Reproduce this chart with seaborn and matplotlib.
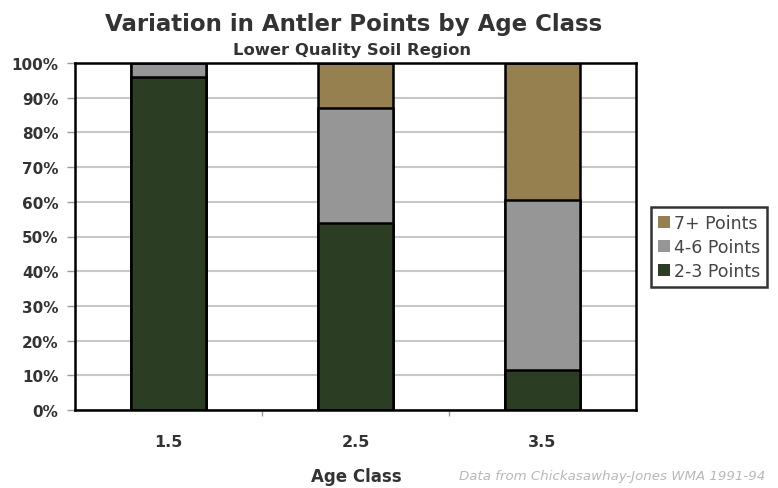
import numpy as np
import pandas as pd
import matplotlib.pyplot as plt
import seaborn as sns
from matplotlib.patches import Patch

# data (percent of bucks per age class)
age_classes = ["1.5", "2.5", "3.5"]
pts_2_3 = [96.0, 54.0, 11.5]
pts_4_6 = [4.0, 33.0, 49.0]
pts_7_plus = [0.0, 13.0, 39.5]

series_names = ["7+ Points", "4-6 Points", "2-3 Points"]
series_colors = ["#97804f", "#969696", "#2b3d22"]

sns.set_theme(style="white")
plt.rcParams["font.family"] = ["DejaVu Sans"]

df = pd.DataFrame({
    "age": age_classes,
    "2-3 Points": pts_2_3,
    "4-6 Points": pts_4_6,
    "7+ Points": pts_7_plus,
})
# cumulative tops so the layers stack
df["top_2_3"] = df["2-3 Points"]
df["top_4_6"] = df["top_2_3"] + df["4-6 Points"]
df["top_7"] = df["top_4_6"] + df["7+ Points"]

fig = plt.figure(figsize=(7.78, 4.89), dpi=100)
ax = fig.add_axes([75 / 778, 1 - 411 / 489, 561 / 778, 347 / 489])

for col, color in zip(["top_7", "top_4_6", "top_2_3"], series_colors):
    sns.barplot(data=df, x="age", y=col, color=color, width=0.4,
                edgecolor="black", linewidth=1.8, saturation=1, ax=ax)

ax.set_ylim(0, 100)
ax.set_yticks(np.arange(0, 101, 10))
ax.set_yticklabels([f"{v}%" for v in range(0, 101, 10)], fontsize=11, fontweight="bold", color="#333333")
ax.tick_params(axis="x", labelsize=11.5, colors="#333333", pad=17, length=0)
for lbl in ax.get_xticklabels():
    lbl.set_fontweight("bold")
# small category-boundary ticks under the x axis
ax.set_xticks([0.5, 1.5], minor=True)
ax.tick_params(axis="x", which="minor", bottom=True, length=4, width=1, color="#999999")
ax.tick_params(axis="y", length=6, width=1, color="#999999", left=True, pad=6)
ax.yaxis.grid(True, color="#c8c8c8", linewidth=1.5)
ax.set_axisbelow(True)
for s in ax.spines.values():
    s.set_color("black")
    s.set_linewidth(1.8)

ax.set_xlabel("")
ax.set_ylabel("")

fig.text(354 / 778, 1 - 24 / 489, "Variation in Antler Points by Age Class",
         ha="center", va="center", fontsize=16.5, fontweight="bold", color="#333333")
fig.text(352 / 778, 1 - 50 / 489, "Lower Quality Soil Region",
         ha="center", va="center", fontsize=11.8, fontweight="bold", color="#333333")
fig.text(356 / 778, 1 - 477 / 489, "Age Class",
         ha="center", va="center", fontsize=12, fontweight="bold", color="#333333")
fig.text(765 / 778, 1 - 477 / 489, "Data from Chickasawhay-Jones WMA 1991-94",
         ha="right", va="center", fontsize=9.6, style="italic", color="#b8b8b8")

handles = [Patch(facecolor=c, edgecolor="none") for c in series_colors]
leg = fig.legend(handles, series_names, loc="center left",
                 bbox_to_anchor=(651 / 778, 1 - 248 / 489), frameon=True,
                 fontsize=12.5, handlelength=0.7, handleheight=0.7, handletextpad=0.2,
                 labelspacing=0.35, borderpad=0.4, borderaxespad=0, fancybox=False)
leg.get_frame().set_edgecolor("black")
leg.get_frame().set_linewidth(1.8)
for t in leg.get_texts():
    t.set_color("#444444")

fig.savefig("out.png", dpi=100, facecolor="white")
